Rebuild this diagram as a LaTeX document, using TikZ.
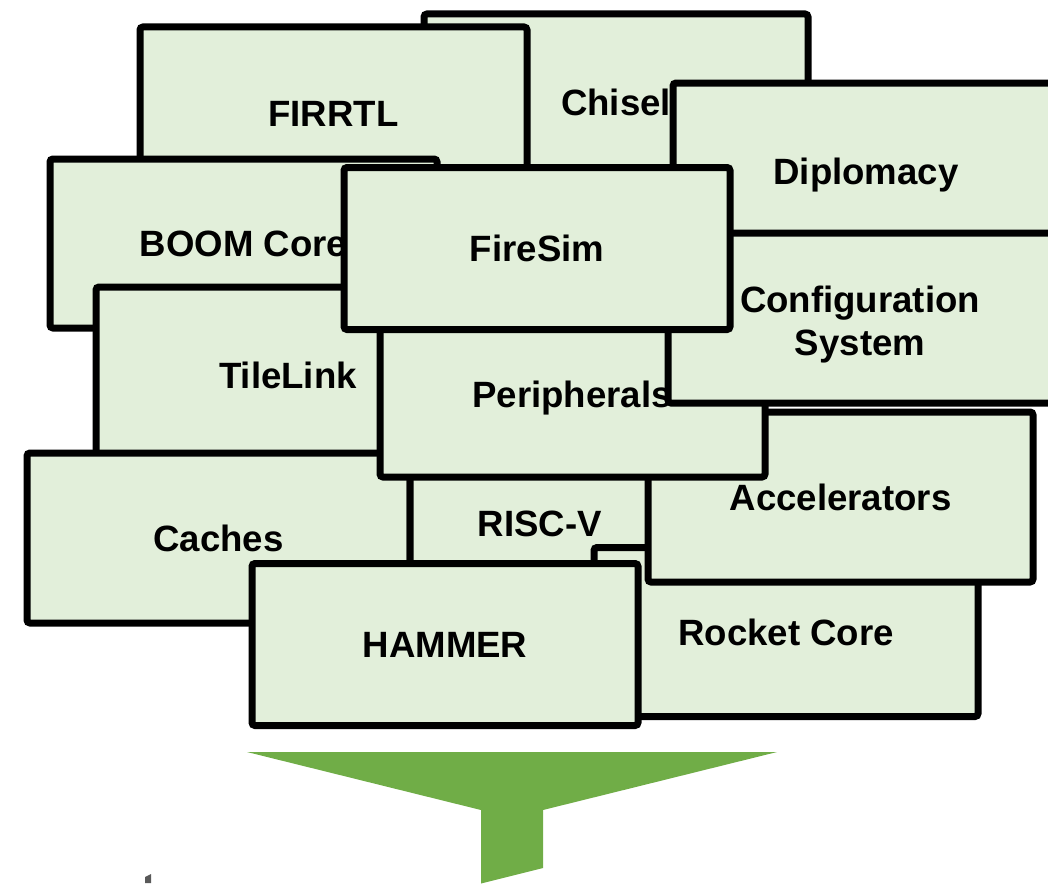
\documentclass[tikz,border=0pt]{standalone}
\usepackage{fontspec}
\setmainfont{Liberation Sans}
\newcommand\lblfont{\fontsize{36.6}{43}\selectfont\bfseries}
\definecolor{boxgreen}{RGB}{226,239,218}
\definecolor{funnelgreen}{RGB}{112,173,71}
\begin{document}
\begin{tikzpicture}[x=1pt,y=-1pt,
  blk/.style={draw=black, line width=7pt, fill=boxgreen, rounded corners=3pt,
    inner sep=0pt, text height=26.2pt, text depth=0pt, font=\lblfont, align=center},
  lbl/.style={inner sep=0pt, text height=26.2pt, text depth=0pt, font=\lblfont}]
\useasboundingbox (0,0) rectangle (1048,883);
% bottom layer first
\node[blk, minimum width=384pt, minimum height=176pt] (chisel) at (616,102) {Chisel};
\node[blk, minimum width=387pt, minimum height=172pt] (firrtl) at (333.5,113) {FIRRTL};
\node[blk, minimum width=387pt, minimum height=169pt] (boom) at (243.5,243.5) {BOOM Core};
\node[blk, minimum width=384pt, minimum height=176pt] (tilelink) at (288,375) {TileLink};
\node[blk, minimum width=383pt, minimum height=170pt] (caches) at (218.5,538) {Caches};
\node[blk, minimum width=260pt, minimum height=130pt] (riscv) at (540,523) {RISC-V};
\node[blk, minimum width=384pt, minimum height=169pt] (rocket) at (786,632) {Rocket Core};
\node[blk, minimum width=386pt, minimum height=162pt] (hammer) at (445,644.5) {HAMMER};
\node[blk, minimum width=386pt, minimum height=176pt] (diplomacy) at (866,171) {Diplomacy};
\node[blk, minimum width=385pt, minimum height=170pt] (accel) at (840.5,497) {Accelerators};
\node[blk, minimum width=385pt, minimum height=169pt] (periph) at (572.5,392.5) {};
\node[blk, minimum width=384pt, minimum height=170pt] (config) at (860,318) {};
\node[lbl] (periphtext) at (572,394.5) {Peripherals};
\node[lbl] (configtext1) at (860,299) {Configuration};
\node[lbl] (configtext2) at (860,342.5) {System};
\node[blk, minimum width=386pt, minimum height=162pt] (firesim) at (537,248.5) {FireSim};
% funnel
\fill[funnelgreen] (247,752) -- (777,752) -- (543,810) -- (543,868) -- (481,883.5) -- (481,810) -- cycle;
% cut-off fragment at bottom left
\fill[black!65] (145,877) -- (151,874) -- (151,883) -- (145,883) -- cycle;
\end{tikzpicture}
\end{document}
